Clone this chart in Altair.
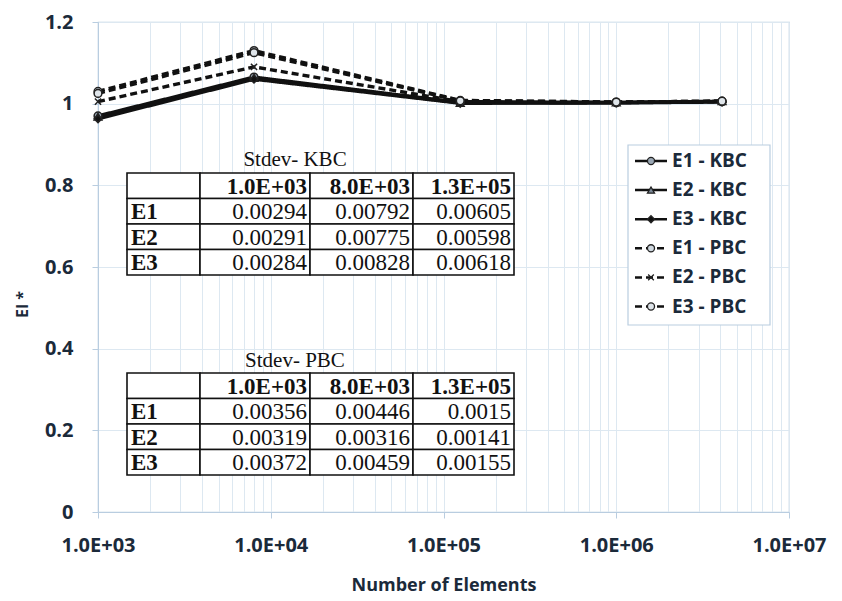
import altair as alt
import pandas as pd

# ---------------- data ----------------
elements = [1000, 8000, 125000, 1000000, 4096000]
series_names = ["E1 - KBC", "E2 - KBC", "E3 - KBC", "E1 - PBC", "E2 - PBC", "E3 - PBC"]
e1_kbc = [0.970, 1.065, 1.003, 1.002, 1.005]
e2_kbc = [0.968, 1.063, 1.002, 1.003, 1.006]
e3_kbc = [0.963, 1.060, 1.001, 1.002, 1.004]
e1_pbc = [1.030, 1.130, 1.008, 1.004, 1.006]
e2_pbc = [1.005, 1.090, 1.005, 1.003, 1.005]
e3_pbc = [1.025, 1.125, 1.007, 1.004, 1.006]
series_values = [e1_kbc, e2_kbc, e3_kbc, e1_pbc, e2_pbc, e3_pbc]

table_cols = ["1.0E+03", "8.0E+03", "1.3E+05"]
table_rows = ["E1", "E2", "E3"]
stdev_kbc = [[0.00294, 0.00792, 0.00605],
             [0.00291, 0.00775, 0.00598],
             [0.00284, 0.00828, 0.00618]]
stdev_pbc = [[0.00356, 0.00446, 0.0015],
             [0.00319, 0.00316, 0.00141],
             [0.00372, 0.00459, 0.00155]]

y_ticks = [0, 0.2, 0.4, 0.6, 0.8, 1.0, 1.2]

# ---------------- layout / style ----------------
PLOT_L, PLOT_T, PLOT_W, PLOT_H = 98, 22, 691, 490
TOTAL_W, TOTAL_H = 842, 601
INK = "#111111"
LABEL_COLOR = "#1b2a3a"
GRID = "#dde8f1"
FRAME = "#b9cde0"
SANS = "Open Sans"
SERIF = "Liberation Serif"

dash_range = [[1, 0], [1, 0], [1, 0], [7, 4], [7, 4], [7, 4]]
shape_range = ["circle", "triangle-up", "diamond", "circle",
               "M-0.8,-0.8L0.8,0.8M-0.8,0.8L0.8,-0.8", "circle"]
fill_range = ["#9aa7b4", "#7d8a98", "#111111", "#cfd8e0", "#111111", "#dfe5ea"]

dash_scale = alt.Scale(domain=series_names, range=dash_range)
shape_scale = alt.Scale(domain=series_names, range=shape_range)
fill_scale = alt.Scale(domain=series_names, range=fill_range)

# minor + major x ticks for log grid
x_ticks = []
for d in range(3, 7):
    for m in range(1, 10):
        x_ticks.append(m * 10 ** d)
x_ticks.append(10 ** 7)

is_major = "abs(log(datum.value)/LN10 - round(log(datum.value)/LN10)) < 0.001"

rows = []
for name, vals in zip(series_names, series_values):
    for xv, yv in zip(elements, vals):
        rows.append({"elements": xv, "value": yv, "series": name})
df = pd.DataFrame(rows)

x_enc = alt.X(
    "elements:Q",
    scale=alt.Scale(type="log", domain=[1e3, 1e7], nice=False),
    axis=alt.Axis(
        values=x_ticks,
        labelExpr=f"({is_major}) ? ('1.0E+0' + round(log(datum.value)/LN10)) : ''",
        labelOverlap=False, labelFlush=False, labelBound=False,
        grid=True, gridColor=GRID, gridWidth=1,
        domainColor=FRAME, tickColor=FRAME, tickSize=6,
        tickOpacity={"expr": f"({is_major}) ? 1 : 0"},
        labelFont=SANS, labelFontWeight="bold", labelFontSize=20,
        labelColor=LABEL_COLOR, labelPadding=17,
        title="Number of Elements", titleFont=SANS, titleFontWeight="bold",
        titleFontSize=18, titleColor=LABEL_COLOR,
        titleY=73, titleBaseline="middle",
    ),
)
y_enc = alt.Y(
    "value:Q",
    scale=alt.Scale(domain=[0, 1.2], nice=False),
    axis=alt.Axis(
        values=y_ticks, format=".1~f",
        grid=True, gridColor=GRID, gridWidth=1,
        domainColor=FRAME, tickColor=FRAME, tickSize=6,
        labelFont=SANS, labelFontWeight="bold", labelFontSize=20,
        labelColor=LABEL_COLOR, labelPadding=19,
        title="EI *", titleFont=SANS, titleFontWeight="bold", titleFontSize=16,
        titleColor=LABEL_COLOR, titleX=-76, titleY=282,
        titleAngle=270, titleAlign="center", titleBaseline="middle",
    ),
)

lines = alt.Chart(df).mark_line(strokeWidth=3.4, color=INK).encode(
    x=x_enc, y=y_enc,
    detail="series:N",
    strokeDash=alt.StrokeDash("series:N", scale=dash_scale, legend=None),
)
points = alt.Chart(df).mark_point(filled=True, size=60, strokeWidth=1.5, opacity=1).encode(
    x="elements:Q", y="value:Q",
    shape=alt.Shape("series:N", scale=shape_scale, legend=None),
    fill=alt.Fill("series:N", scale=fill_scale, legend=None),
    stroke=alt.value("#222222"),
)

# ---------------- tables (page pixel layout, shifted into plot coords) ----------------
COL_EDGES = [127, 200, 310, 413, 514]
KBC_ROWS = [173, 198.5, 224, 249.5, 275]
PBC_ROWS = [373, 398.5, 424, 449.5, 475]
TITLE_Y = {"Stdev- KBC": 160, "Stdev- PBC": 361}
TITLE_X = 295

cell_rects, head_txt, lab_txt, val_txt, title_txt = [], [], [], [], []
for title, edges, vals in [("Stdev- KBC", KBC_ROWS, stdev_kbc), ("Stdev- PBC", PBC_ROWS, stdev_pbc)]:
    title_txt.append({"tx": TITLE_X, "ty": TITLE_Y[title], "text": title})
    for r in range(4):
        for c in range(4):
            cell_rects.append({"x1": COL_EDGES[c], "x2": COL_EDGES[c + 1],
                               "y1": edges[r], "y2": edges[r + 1]})
    for c, h in enumerate(table_cols):
        head_txt.append({"tx": COL_EDGES[c + 2] - 3, "ty": (edges[0] + edges[1]) / 2 + 1, "text": h})
    for r, lab in enumerate(table_rows):
        yc = (edges[r + 1] + edges[r + 2]) / 2 + 1
        lab_txt.append({"tx": COL_EDGES[0] + 4, "ty": yc, "text": lab})
        for c in range(3):
            val_txt.append({"tx": COL_EDGES[c + 2] - 3, "ty": yc, "text": str(vals[r][c])})


def shift(records, xkeys, ykeys):
    out = []
    for rec in records:
        rec = dict(rec)
        for k in xkeys:
            rec[k] = rec[k] - PLOT_L
        for k in ykeys:
            rec[k] = rec[k] - PLOT_T
        out.append(rec)
    return pd.DataFrame(out)


px = lambda f: alt.X(f, scale=None, axis=None)
py = lambda f: alt.Y(f, scale=None, axis=None)

rects = alt.Chart(shift(cell_rects, ["x1", "x2"], ["y1", "y2"])).mark_rect(
    fill="white", stroke="#111111", strokeWidth=1.6).encode(
    x=px("x1:Q"), x2="x2:Q", y=py("y1:Q"), y2="y2:Q")
heads = alt.Chart(shift(head_txt, ["tx"], ["ty"])).mark_text(
    font=SERIF, fontSize=23, fontWeight="bold", align="right", baseline="middle", color="#111").encode(
    x=px("tx:Q"), y=py("ty:Q"), text="text:N")
labs = alt.Chart(shift(lab_txt, ["tx"], ["ty"])).mark_text(
    font=SERIF, fontSize=23, fontWeight="bold", align="left", baseline="middle", color="#111").encode(
    x=px("tx:Q"), y=py("ty:Q"), text="text:N")
vals_t = alt.Chart(shift(val_txt, ["tx"], ["ty"])).mark_text(
    font=SERIF, fontSize=23, align="right", baseline="middle", color="#111").encode(
    x=px("tx:Q"), y=py("ty:Q"), text="text:N")
titles = alt.Chart(shift(title_txt, ["tx"], ["ty"])).mark_text(
    font=SERIF, fontSize=21, align="center", baseline="middle", color="#111").encode(
    x=px("tx:Q"), y=py("ty:Q"), text="text:N")

# ---------------- legend ----------------
LEG_BOX = {"x1": 628, "x2": 770, "y1": 145, "y2": 325}
LEG_Y0, LEG_STEP = 161, 29.1
LEG_LX1, LEG_LX2, LEG_MX, LEG_TX = 635, 667, 651, 672

leg_rows = []
for i, name in enumerate(series_names):
    leg_rows.append({"series": name, "ly": LEG_Y0 + i * LEG_STEP,
                     "lx1": LEG_LX1, "lx2": LEG_LX2, "lmx": LEG_MX, "ltx": LEG_TX})
leg_df = shift(leg_rows, ["lx1", "lx2", "lmx", "ltx"], ["ly"])

leg_box = alt.Chart(shift([LEG_BOX], ["x1", "x2"], ["y1", "y2"])).mark_rect(
    fill="white", stroke=FRAME, strokeWidth=1.2).encode(
    x=px("x1:Q"), x2="x2:Q", y=py("y1:Q"), y2="y2:Q")
leg_lines = alt.Chart(leg_df).mark_rule(strokeWidth=2.5, color=INK).encode(
    x=px("lx1:Q"), x2="lx2:Q", y=py("ly:Q"),
    strokeDash=alt.StrokeDash("series:N", scale=dash_scale, legend=None))
leg_pts = alt.Chart(leg_df).mark_point(filled=True, size=50, strokeWidth=1.3, opacity=1).encode(
    x=px("lmx:Q"), y=py("ly:Q"),
    shape=alt.Shape("series:N", scale=shape_scale, legend=None),
    fill=alt.Fill("series:N", scale=fill_scale, legend=None),
    stroke=alt.value("#222222"))
leg_txt = alt.Chart(leg_df).mark_text(
    font=SANS, fontSize=19, fontWeight="bold", align="left", baseline="middle",
    color=LABEL_COLOR).encode(
    x=px("ltx:Q"), y=py("ly:Q"), text="series:N")

chart = alt.layer(
    lines, points, rects, heads, labs, vals_t, titles,
    leg_box, leg_lines, leg_pts, leg_txt,
).properties(
    width=PLOT_W, height=PLOT_H,
    autosize=alt.AutoSizeParams(type="none"),
    padding={"left": PLOT_L, "top": PLOT_T,
             "right": TOTAL_W - PLOT_L - PLOT_W, "bottom": TOTAL_H - PLOT_T - PLOT_H},
    background="white",
).configure_view(stroke=FRAME, strokeWidth=1.2)

chart.save("out.html", embed_options={"renderer": "svg", "actions": False})
